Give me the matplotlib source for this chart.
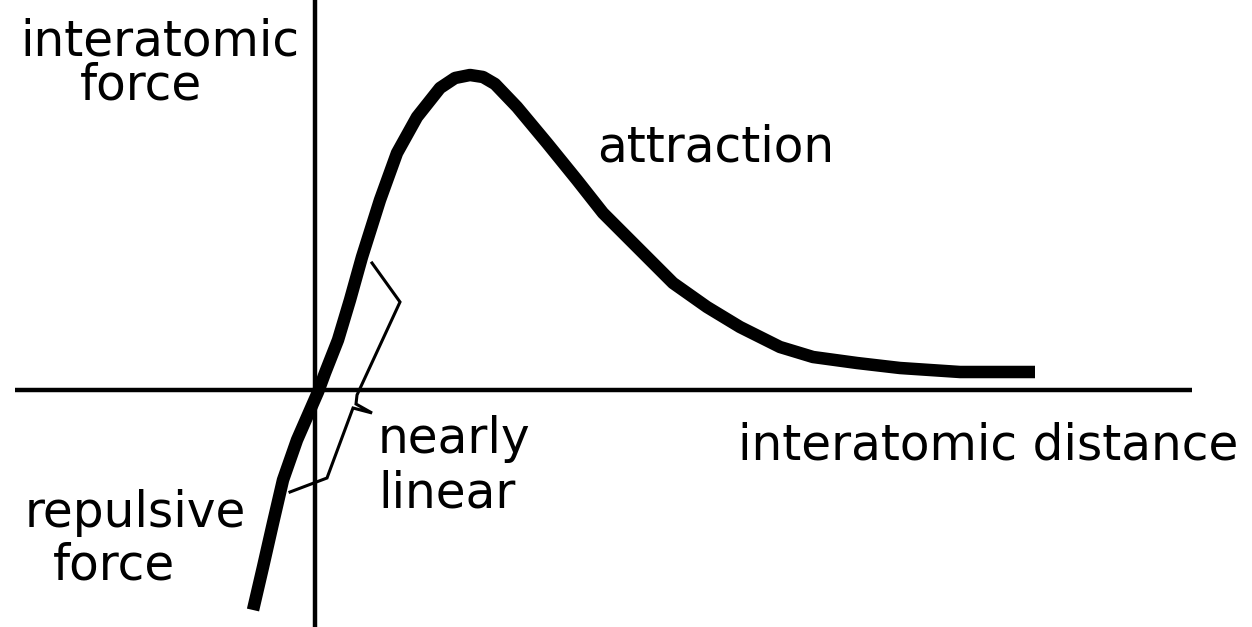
import matplotlib
matplotlib.use("Agg")
import matplotlib.pyplot as plt

# Curve: interatomic force vs interatomic distance (origin at axes crossing)
distance = [-62, -52, -42, -32, -18, 3, 10, 23, 35, 47, 65, 82, 102, 125,
            140, 155, 168, 180, 202, 232, 262, 288, 332, 358, 392, 425, 465,
            498, 542, 585, 645, 720]
force = [-220, -177, -133, -90, -50, -2, 17, 50, 90, 133, 190, 237, 273,
         302, 312, 315, 313, 306, 283, 247, 210, 177, 133, 107, 83, 63, 43,
         33, 27, 22, 18, 18]

# "nearly linear" bracket
bracket_x = [57, 85, 42, 41, 57, 38, 12, -25]
bracket_y = [127, 88, -5, -14, -23, -18, -88, -102]

# Axis extents
xaxis_x = [-300, 877]
yaxis_y = [-237, 390]

labels = [
    ("interatomic", -295, 335),
    ("force", -235, 290),
    ("attraction", 282, 228),
    ("nearly", 63, -63),
    ("linear", 63, -118),
    ("repulsive", -290, -137),
    ("force", -262, -190),
    ("interatomic distance", 423, -70),
]

fig = plt.figure(figsize=(12.52, 6.27), dpi=100)
ax = fig.add_axes([0, 0, 1, 1])
ax.set_xlim(-315, 937)
ax.set_ylim(-237, 390)
ax.axis("off")

ax.plot(xaxis_x, [0, 0], color="black", lw=3.2, solid_capstyle="butt")
ax.plot([0, 0], yaxis_y, color="black", lw=3.2, solid_capstyle="butt")
ax.plot(distance, force, color="black", lw=9, solid_capstyle="butt",
        solid_joinstyle="round")
ax.plot(bracket_x, bracket_y, color="black", lw=2.2, solid_joinstyle="miter")

for txt, x, y in labels:
    ax.text(x, y, txt, fontsize=35, family="DejaVu Sans", ha="left",
            va="baseline", color="black")

fig.savefig("out.png", dpi=100, facecolor="white")
